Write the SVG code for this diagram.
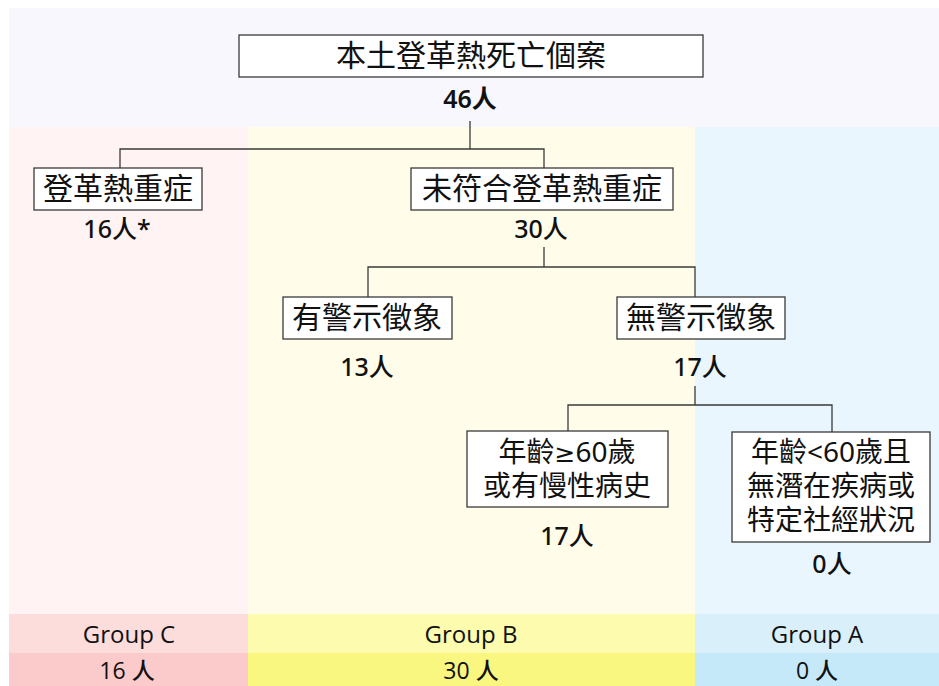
<svg xmlns="http://www.w3.org/2000/svg" width="939" height="686" viewBox="0 0 939 686">
<style>
.box{fill:#ffffff;stroke:#3a3a3a;stroke-width:1.3}
.cjk{font-family:"Noto Sans","Noto Sans CJK TC","Noto Sans CJK SC",sans-serif;font-size:30px;fill:#111;text-anchor:middle}
.ml{font-size:28px}
.sym{font-family:"DejaVu Sans",sans-serif;font-size:25px}
.num{font-family:"Noto Sans","Noto Sans CJK TC",sans-serif;font-size:25px;fill:#111;text-anchor:middle;font-weight:500}
.grp{font-family:"Open Sans","Noto Sans CJK TC",sans-serif;font-size:24px;fill:#111;text-anchor:middle;font-weight:500}
.cnt{font-size:23px}
.ln{fill:none;stroke:#3a3a3a;stroke-width:1.3}
</style>
<rect x="0" y="0" width="939" height="686" fill="#ffffff"/>
<rect x="9" y="8" width="930" height="119" fill="#f8f7fd"/>
<rect x="9" y="127" width="239" height="487" fill="#fff3f3"/>
<rect x="248" y="127" width="447" height="487" fill="#fffde9"/>
<rect x="695" y="127" width="244" height="487" fill="#e9f6fd"/>
<rect x="9" y="614" width="239" height="39" fill="#fddcdc"/>
<rect x="248" y="614" width="447" height="39" fill="#fcfbae"/>
<rect x="695" y="614" width="244" height="39" fill="#d9effa"/>
<rect x="9" y="653" width="239" height="33" fill="#fbcaca"/>
<rect x="248" y="653" width="447" height="33" fill="#f9f780"/>
<rect x="695" y="653" width="244" height="33" fill="#c5e9f9"/>

<g id="connectors">
<path class="ln" d="M470,121 V149 M120,168 V149 H544 V168"/>
<path class="ln" d="M544,247 V267 M368,297 V267 H695 V297"/>
<path class="ln" d="M695,386 V405 M568,431 V405 H832 V432"/>
</g>

<g id="root">
<rect class="box" x="239" y="35" width="464" height="42"/>
<text class="cjk" x="471" y="66">本土登革熱死亡個案</text>
<text class="num" x="470" y="108" style="font-weight:600">46人</text>
</g>

<g id="severe">
<rect class="box" x="34" y="168" width="168" height="42"/>
<text class="cjk" x="118" y="199">登革熱重症</text>
<text class="num" x="117" y="238">16人*</text>
</g>

<g id="not-severe">
<rect class="box" x="411" y="168" width="262" height="42"/>
<text class="cjk" x="542" y="199">未符合登革熱重症</text>
<text class="num" x="541" y="238">30人</text>
</g>

<g id="warning">
<rect class="box" x="283" y="297" width="169" height="42"/>
<text class="cjk" x="367" y="328">有警示徵象</text>
<text class="num" x="367" y="376">13人</text>
</g>

<g id="no-warning">
<rect class="box" x="617" y="297" width="168" height="42"/>
<text class="cjk" x="701" y="328">無警示徵象</text>
<text class="num" x="700" y="376">17人</text>
</g>

<g id="age-over-60">
<rect class="box" x="467" y="431" width="201" height="76"/>
<text class="cjk ml" x="567" y="462">年齡<tspan class="sym">≥</tspan>60歲</text>
<text class="cjk ml" x="567" y="496">或有慢性病史</text>
<text class="num" x="567" y="545">17人</text>
</g>

<g id="age-under-60">
<rect class="box" x="732" y="432" width="198" height="110"/>
<text class="cjk ml" x="831" y="462">年齡&lt;60歲且</text>
<text class="cjk ml" x="831" y="496">無潛在疾病或</text>
<text class="cjk ml" x="831" y="530">特定社經狀況</text>
<text class="num" x="832" y="573">0人</text>
</g>

<g id="group-c">
<text class="grp" x="129" y="643">Group C</text>
<text class="grp cnt" x="127" y="679">16 人</text>
</g>
<g id="group-b">
<text class="grp" x="471" y="643">Group B</text>
<text class="grp cnt" x="471" y="679">30 人</text>
</g>
<g id="group-a">
<text class="grp" x="817" y="643">Group A</text>
<text class="grp cnt" x="817" y="679">0 人</text>
</g>
</svg>
